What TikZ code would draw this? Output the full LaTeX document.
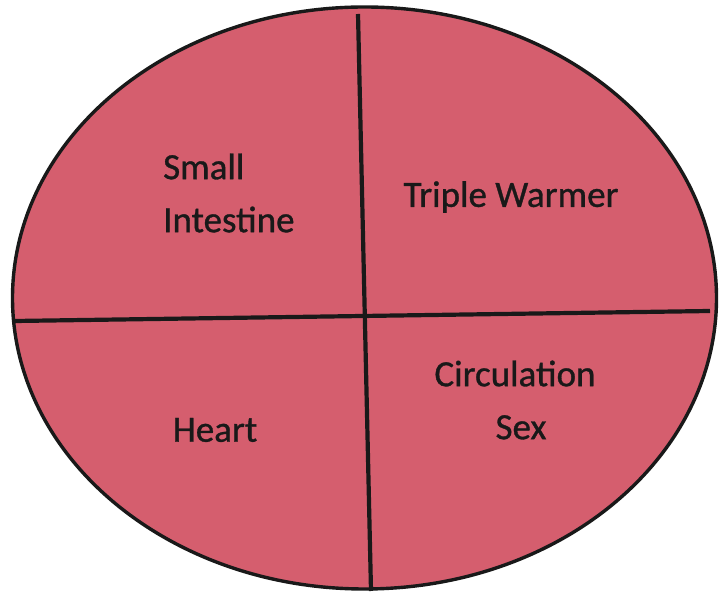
\documentclass[tikz,border=0pt]{standalone}
\usepackage{fontspec}
\setmainfont{Carlito}
\newfontfamily\quadfont[FakeBold=0.9]{Carlito}
\usetikzlibrary{positioning}
\definecolor{meridian}{RGB}{213,94,110}

\begin{document}
\begin{tikzpicture}[x=1pt,y=1pt,
  lab/.style={font=\quadfont\fontsize{37}{53}\selectfont,text=black!90,inner sep=0pt},
  divider/.style={line width=4.2pt,black!90}]
\useasboundingbox (0,0) rectangle (719,596);
\fill[meridian] (364.5,298) ellipse [x radius=352, y radius=291];
\draw[line width=3.4pt,black!90] (364.5,298) ellipse [x radius=352, y radius=291];
% dividing lines
\coordinate (west) at (15,275);
\coordinate (east) at (710,285);
\coordinate (north) at (358,582);
\coordinate (south) at (371,5);
\draw[divider] (west) -- (east);
\draw[divider] (north) -- (south);
% quadrant labels
\node[lab,align=left,anchor=west] (si) at (163,403) {Small\\Intestine};
\node[lab] (tw) at (511,399) {Triple Warmer};
\node[lab] (ht) at (215,166) {Heart};
\node[lab,align=center] (cs) at (515,196) {Circulation\\\hspace*{12pt}Sex};
\end{tikzpicture}
\end{document}
